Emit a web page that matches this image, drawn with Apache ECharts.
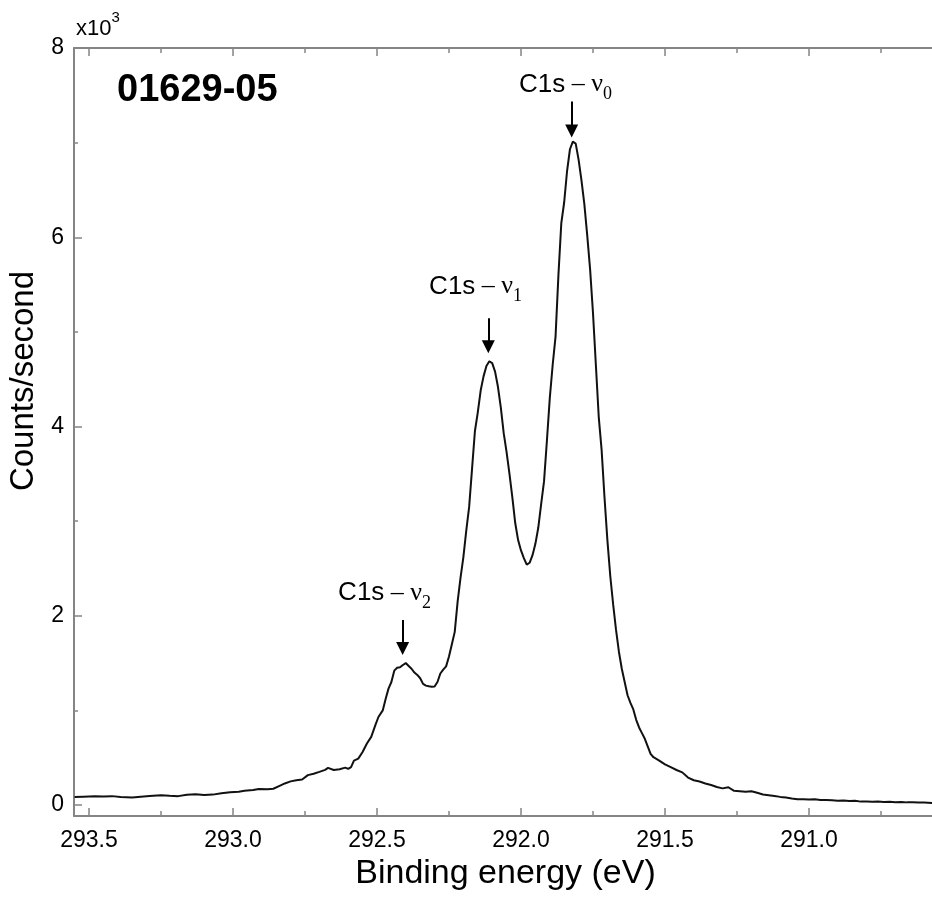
<!DOCTYPE html>
<html>
<head>
<meta charset="utf-8">
<script src="https://cdn.jsdelivr.net/npm/echarts@6/dist/echarts.min.js"></script>
<style>
html,body{margin:0;padding:0;background:#fff;}
#chart{width:932px;height:898px;}
</style>
</head>
<body>
<div id="chart"></div>
<script>
// ---- Data (binding energy in eV, counts/second) ----
const energy = [
 293.55,293.52,293.48,293.45,293.42,293.39,293.35,293.32,293.29,293.25,293.22,293.19,293.16,293.13,293.10,293.07,293.04,293.01,292.98,292.96,
 292.93,292.91,292.88,292.86,292.84,292.82,292.80,292.78,292.76,292.74,292.72,292.70,292.68,292.67,292.65,292.63,292.61,292.60,292.59,292.58,
 292.565,292.55,292.535,292.52,292.505,292.495,292.48,292.47,292.46,292.45,292.44,292.43,292.42,292.41,292.40,292.39,292.38,292.37,292.36,292.35,
 292.34,292.33,292.32,292.31,292.30,292.29,292.28,292.27,292.26,292.25,292.24,292.23,292.22,292.21,292.20,292.19,292.18,292.17,292.16,292.15,
 292.14,292.13,292.12,292.11,292.10,292.09,292.08,292.07,292.06,292.05,292.04,292.03,292.02,292.01,292.00,291.99,291.98,291.975,291.97,291.96,
 291.95,291.94,291.93,291.92,291.91,291.90,291.89,291.88,291.87,291.86,291.85,291.84,291.83,291.82,291.815,291.81,291.80,291.79,291.78,291.77,
 291.76,291.75,291.74,291.73,291.72,291.71,291.70,291.69,291.68,291.67,291.66,291.65,291.64,291.63,291.62,291.61,291.60,291.59,291.58,291.57,
 291.56,291.55,291.54,291.52,291.50,291.48,291.46,291.44,291.42,291.40,291.38,291.36,291.34,291.32,291.30,291.28,291.26,291.24,291.22,291.20,
 291.18,291.16,291.14,291.12,291.10,291.08,291.06,291.04,291.02,291.00,290.98,290.96,290.94,290.92,290.90,290.88,290.86,290.84,290.82,290.80,
 290.78,290.76,290.74,290.72,290.70,290.68,290.66,290.64,290.62,290.60,290.57
];
const counts = [
 85,88,92,90,94,86,80,88,96,104,98,94,108,114,106,110,124,136,140,150,
 158,170,166,172,200,228,250,262,270,316,330,350,372,392,370,378,395,382,400,470,
 490,560,650,720,850,930,1000,1120,1230,1300,1420,1450,1455,1480,1500,1470,1440,1400,1375,1340,
 1280,1262,1255,1250,1252,1300,1390,1430,1465,1570,1700,1830,2150,2400,2620,2900,3150,3550,3950,4150,
 4380,4530,4640,4690,4670,4580,4420,4200,3930,3730,3500,3250,2980,2800,2690,2610,2540,2535,2560,2640,
 2760,2930,3180,3420,3850,4300,4650,4950,5600,6150,6370,6700,6930,7010,7025,6990,6820,6600,6350,6020,
 5660,5200,4650,4100,3750,3250,2800,2420,2120,1850,1620,1440,1300,1160,1080,1010,900,820,760,700,
 620,540,505,470,430,400,370,345,290,262,248,228,212,190,176,188,150,146,140,146,
 130,112,104,96,86,80,70,62,60,58,60,52,54,50,46,48,42,44,36,38,
 34,36,32,34,30,32,28,30,26,27,22
];

// Tick values
const xTickLabels = [291.0, 291.5, 292.0, 292.5, 293.0, 293.5];
const yMajorTicks = [0, 2000, 4000, 6000, 8000];
const yMinorTicks = [1000, 3000, 5000, 7000];

// Annotations: peak arrows (energy, top value, end value) and labels
const peakNames = ['0', '1', '2'];
const arrowEnergy = [291.824, 292.1135, 292.411];
const arrowTop = [7434, 5143, 1954];
const arrowEnd = [7122, 4842, 1653];
const labelEnergy = [292.007, 292.319, 292.635];
const labelValue = [7613, 5480, 2239];

const sansFont = '"Liberation Sans", Arial, Helvetica, sans-serif';
const serifFont = '"Liberation Serif", "Times New Roman", serif';
const axisGray = '#858585';

const seriesData = energy.map((e, i) => [e, counts[i]]);

const chart = echarts.init(document.getElementById('chart'), null, {renderer: 'canvas'});

const xCommon = {
  type: 'value',
  inverse: true,
  min: 290.5,
  max: 293.552,
  interval: 0.5,
  axisLine: {show: true, onZero: false, lineStyle: {color: axisGray, width: 2}},
  axisTick: {show: true, inside: true, length: 8, lineStyle: {color: axisGray, width: 1.5}},
  minorTick: {show: true, splitNumber: 2, length: 5, lineStyle: {color: axisGray, width: 1.5}},
  splitLine: {show: false},
  minorSplitLine: {show: false}
};

const option = {
  animation: false,
  backgroundColor: '#ffffff',
  grid: {left: 74, right: -21, top: 48, bottom: 82, containLabel: false, outerBoundsMode: 'none'},
  xAxis: [
    Object.assign({}, xCommon, {
      position: 'bottom',
      name: 'Binding energy (eV)',
      nameLocation: 'middle',
      nameGap: 33,
      nameTextStyle: {fontFamily: sansFont, fontSize: 34, color: '#000', padding: [0, 16, 0, 0]},
      axisLabel: {
        show: true, margin: 13, fontFamily: sansFont, fontSize: 23, color: '#000',
        formatter: v => xTickLabels.some(t => Math.abs(t - v) < 1e-6) ? v.toFixed(1) : ''
      }
    }),
    Object.assign({}, xCommon, {
      position: 'top',
      axisLabel: {show: false}
    })
  ],
  yAxis: [
    {
      type: 'value',
      min: -116,
      max: 8000,
      position: 'left',
      name: 'Counts/second',
      nameLocation: 'middle',
      nameGap: 26,
      nameRotate: 90,
      nameTextStyle: {fontFamily: sansFont, fontSize: 33, color: '#000', padding: [0, 0, 0, 102]},
      axisLine: {show: true, onZero: false, lineStyle: {color: axisGray, width: 2}},
      axisTick: {show: true, inside: true, length: 8, customValues: yMajorTicks, lineStyle: {color: axisGray, width: 1.5}},
      axisLabel: {
        show: true, margin: 10, fontFamily: sansFont, fontSize: 23, color: '#000',
        customValues: yMajorTicks,
        formatter: v => String(Math.round(v / 1000))
      },
      splitLine: {show: false}
    },
    {
      type: 'value',
      min: -116,
      max: 8000,
      position: 'left',
      axisLine: {show: false},
      axisTick: {show: true, inside: true, length: 4, customValues: yMinorTicks, lineStyle: {color: axisGray, width: 1.5}},
      axisLabel: {show: false, customValues: yMinorTicks},
      splitLine: {show: false}
    }
  ],
  series: [
    {
      type: 'line',
      xAxisIndex: 0,
      yAxisIndex: 0,
      data: seriesData,
      showSymbol: false,
      symbol: 'none',
      smooth: false,
      lineStyle: {color: '#111', width: 2},
      silent: true,
      markLine: {
        silent: true,
        animation: false,
        label: {show: false},
        lineStyle: {color: '#000', width: 2, type: 'solid'},
        symbol: ['none', 'triangle'],
        symbolSize: 13,
        data: arrowEnergy.map((e, i) => [
          {coord: [e, arrowTop[i]], symbol: 'none'},
          {coord: [e, arrowEnd[i]], symbol: 'triangle', symbolSize: 13}
        ])
      },
      markPoint: {
        silent: true,
        animation: false,
        symbol: 'circle',
        symbolSize: 0,
        data: labelEnergy.map((e, i) => ({
          coord: [e, labelValue[i]],
          label: {
            show: true,
            position: 'right',
            distance: 0,
            formatter: '{a|C1s}{b| \u2013 \u03bd}{c|' + peakNames[i] + '}',
            rich: {
              a: {fontFamily: sansFont, fontSize: 26, color: '#000', lineHeight: 38, verticalAlign: 'middle'},
              b: {fontFamily: serifFont, fontSize: 26, color: '#000', lineHeight: 38, verticalAlign: 'middle'},
              c: {fontFamily: serifFont, fontSize: 18, color: '#000', lineHeight: 18, verticalAlign: 'bottom'}
            }
          }
        }))
      }
    }
  ],
  graphic: [
    {
      type: 'text',
      left: 117,
      top: 72,
      style: {text: '01629-05', font: 'bold 38px ' + sansFont, fill: '#000'}
    },
    {
      type: 'text',
      left: 76,
      top: 10,
      style: {
        text: '{a|x10}{b|3}',
        rich: {
          a: {fontFamily: sansFont, fontSize: 22, fill: '#000', lineHeight: 30, verticalAlign: 'bottom'},
          b: {fontFamily: sansFont, fontSize: 15, fill: '#000', lineHeight: 15, verticalAlign: 'top'}
        }
      }
    }
  ]
};

chart.setOption(option);
</script>
</body>
</html>
